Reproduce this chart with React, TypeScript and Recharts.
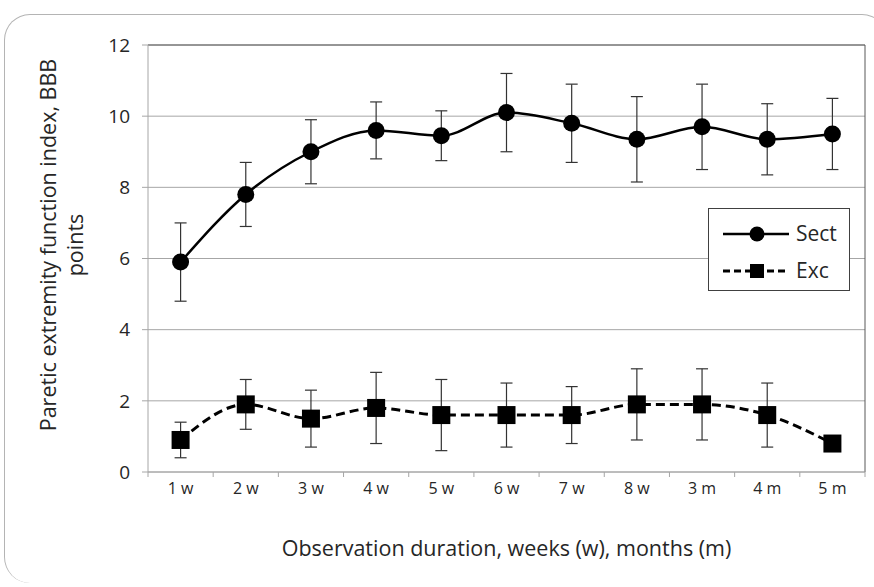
import React from 'react'
import { LineChart, Line, XAxis, YAxis, CartesianGrid, ErrorBar, ReferenceLine } from 'recharts'

const categories = ['1 w', '2 w', '3 w', '4 w', '5 w', '6 w', '7 w', '8 w', '3 m', '4 m', '5 m']
const sectMean = [5.9, 7.8, 9.0, 9.6, 9.45, 10.1, 9.8, 9.35, 9.7, 9.35, 9.5]
const sectSd = [1.1, 0.9, 0.9, 0.8, 0.7, 1.1, 1.1, 1.2, 1.2, 1.0, 1.0]
const excMean = [0.9, 1.9, 1.5, 1.8, 1.6, 1.6, 1.6, 1.9, 1.9, 1.6, 0.8]
const excSd = [0.5, 0.7, 0.8, 1.0, 1.0, 0.9, 0.8, 1.0, 1.0, 0.9, 0.1]
const yTicks = [0, 2, 4, 6, 8, 10, 12]

const W = 874
const H = 587
const Y_AXIS_W = 148
const X_AXIS_H = 115
const MARGIN = { top: 45, right: 9, left: 0, bottom: 0 }
const PLOT_BOTTOM = H - X_AXIS_H
const STEP = (W - Y_AXIS_W - MARGIN.right) / categories.length
const FONT = '"Open Sans", "Noto Sans", sans-serif'
const TEXT = '#262626'
const GRID = '#a6a6a6'

const data = categories.map((c, i) => ({
  x: i + 0.5,
  label: c,
  sect: sectMean[i],
  sectErr: sectSd[i],
  exc: excMean[i],
  excErr: excSd[i],
}))

const XTick = (props: any) => {
  const { x, y, payload, index } = props
  const half = STEP / 2
  return (
    <g>
      <line x1={x - half} x2={x - half} y1={PLOT_BOTTOM} y2={PLOT_BOTTOM + 5} stroke={GRID} />
      {index === categories.length - 1 && (
        <line x1={x + half} x2={x + half} y1={PLOT_BOTTOM} y2={PLOT_BOTTOM + 5} stroke={GRID} />
      )}
      <text x={x} y={y} dy="0.71em" textAnchor="middle" fill={TEXT} fontSize={16} fontFamily={FONT}>
        {categories[Math.floor(payload.value)]}
      </text>
    </g>
  )
}

const SquareDot = (props: any) => {
  const { cx, cy, index } = props
  const s = 18
  return <rect key={`sq-${index}`} x={cx - s / 2} y={cy - s / 2} width={s} height={s} fill="#000" />
}

const YTitle = () => (
  <text transform="rotate(-90 56 245)" x={56} y={245} textAnchor="middle" fill={TEXT} fontSize={21.5} fontFamily={FONT}>
    <tspan x={56} dy={0}>Paretic extremity function index, BBB</tspan>
    <tspan x={56} dy={27}>points</tspan>
  </text>
)

function LegendBox() {
  return (
    <div
      style={{
        position: 'absolute', left: 708, top: 208, width: 140, height: 81,
        border: '1px solid #404040', background: '#fff',
      }}
    >
      <svg width={140} height={81} style={{ display: 'block' }}>
        <line x1={14} x2={80} y1={25} y2={25} stroke="#000" strokeWidth={2.5} />
        <circle cx={48} cy={25} r={7.5} fill="#000" />
        <text x={87} y={32} fontSize={21} fill={TEXT} fontFamily={FONT}>Sect</text>
        <line x1={14} x2={80} y1={62} y2={62} stroke="#000" strokeWidth={3} strokeDasharray="7 4" />
        <rect x={41} y={55} width={14} height={14} fill="#000" />
        <text x={87} y={69} fontSize={21} fill={TEXT} fontFamily={FONT}>Exc</text>
      </svg>
    </div>
  )
}

export default function App() {
  return (
    <div style={{ position: 'absolute', left: 0, top: 0, width: W, height: H, overflow: 'hidden', background: '#fff' }}>
      {/* outer frame, bottom edge not drawn in the original */}
      <div
        style={{
          position: 'absolute', left: 4, top: 14, width: 882, height: 568,
          borderTop: '1.5px solid #b4b4b4', borderLeft: '1.5px solid #b4b4b4', borderRight: '1.5px solid #b4b4b4',
          borderRadius: '26px 26px 0 26px',
        }}
      />
      <div style={{ position: 'absolute', left: 0, top: 0 }}>
        <LineChart width={W} height={H} data={data} margin={MARGIN} style={{ fontFamily: FONT }}>
          <CartesianGrid vertical={false} stroke={GRID} strokeWidth={1} />
          <XAxis
            type="number"
            dataKey="x"
            domain={[0, categories.length]}
            ticks={data.map((d) => d.x)}
            tick={<XTick />}
            tickLine={false}
            tickSize={6}
            tickMargin={5}
            axisLine={{ stroke: GRID }}
            height={X_AXIS_H}
            interval={0}
            label={{
              value: 'Observation duration, weeks (w), months (m)',
              position: 'insideBottom',
              offset: 31,
              fill: TEXT,
              fontSize: 21.5,
              fontFamily: FONT,
            }}
          />
          <YAxis
            domain={[0, 12]}
            ticks={yTicks}
            width={Y_AXIS_W}
            tickSize={6}
            tickMargin={12}
            tickLine={{ stroke: GRID }}
            axisLine={{ stroke: GRID }}
            tick={{ fill: TEXT, fontSize: 19, fontFamily: FONT }}
            interval={0}
            label={{ content: <YTitle /> }}
          />
          <ReferenceLine y={12} stroke="#595959" />
          <ReferenceLine x={categories.length} stroke="#595959" />
          <Line
            type="monotone"
            dataKey="sect"
            stroke="#000"
            strokeWidth={2.5}
            dot={{ r: 8.5, fill: '#000', stroke: '#000', strokeWidth: 0 }}
            activeDot={false}
            isAnimationActive={false}
          >
            <ErrorBar dataKey="sectErr" direction="y" width={6} stroke="#333" strokeWidth={1.2} />
          </Line>
          <Line
            type="monotone"
            dataKey="exc"
            stroke="#000"
            strokeWidth={3}
            strokeDasharray="9 5"
            dot={<SquareDot />}
            activeDot={false}
            isAnimationActive={false}
          >
            <ErrorBar dataKey="excErr" direction="y" width={6} stroke="#333" strokeWidth={1.2} />
          </Line>
        </LineChart>
      </div>
      <LegendBox />
    </div>
  )
}
